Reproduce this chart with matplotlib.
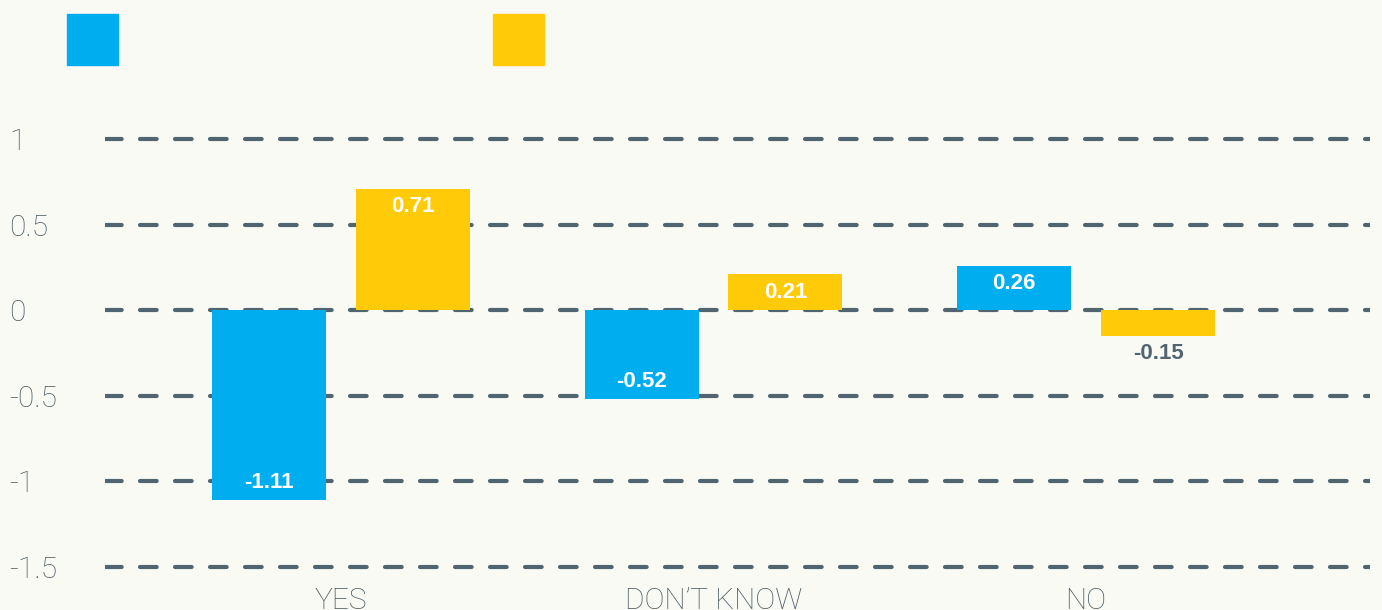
import numpy as np
import matplotlib
matplotlib.use("Agg")
from matplotlib import pyplot as plt
from matplotlib.patches import Rectangle

categories = ["YES", "DON\u2019T KNOW", "NO"]
series_a = [-1.11, -0.52, 0.26]
series_b = [0.71, 0.21, -0.15]
y_ticks = [1, 0.5, 0, -0.5, -1, -1.5]
y_tick_labels = ["1", "0.5", "0", "-0.5", "-1", "-1.5"]

BLUE = "#00aeef"
GOLD = "#ffcb08"
SLATE = "#506570"
BG = "#f9faf4"

plt.rcParams["lines.dash_capstyle"] = "round"

fig = plt.figure(figsize=(13.82, 6.10), dpi=100, facecolor=BG)
ax = fig.add_axes([105 / 1382, 0.0564, 1265 / 1382, 0.7297])
ax.set_facecolor(BG)

x = np.arange(len(categories))
width = 0.306
offset = 0.193

bars_a = ax.bar(x - offset, series_a, width, color=BLUE, zorder=3)
bars_b = ax.bar(x + offset, series_b, width, color=GOLD, zorder=3)

# value labels: inside the bar end, or just outside when the bar is too short
for bars, vals in ((bars_a, series_a), (bars_b, series_b)):
    for bar, v in zip(bars, vals):
        cx = bar.get_x() + bar.get_width() / 2
        sign = 1 if v >= 0 else -1
        if abs(v) >= 0.2:
            dy, color = -13 * sign, "white"
        else:
            dy, color = 13 * sign, SLATE
        ax.annotate(f"{v:.2f}", (cx, v), xytext=(0, dy), textcoords="offset points",
                    ha="center", va="center", fontsize=16, fontweight="bold",
                    family="Liberation Sans", color=color, zorder=4)

ax.set_xlim(-0.6336, 2.762)
ax.set_ylim(-1.55, 1.05)

ax.set_yticks(y_ticks)
ax.set_yticklabels(y_tick_labels)
ax.set_xticks(x)
ax.set_xticklabels(categories)

for lab in ax.get_yticklabels():
    lab.set_horizontalalignment("left")
for lab in ax.get_yticklabels() + ax.get_xticklabels():
    lab.set_family(["Roboto", "DejaVu Sans"])
    lab.set_fontweight("light")
    lab.set_fontsize(21.5)
    lab.set_color("#4a5c66")

ax.tick_params(axis="y", length=0, pad=69)
ax.tick_params(axis="x", length=0, pad=8)

ax.yaxis.grid(True, color=SLATE, linewidth=3, linestyle=(0, (4, 4.4)), zorder=1)
ax.set_axisbelow(True)
for s in ax.spines.values():
    s.set_visible(False)

# series swatches along the top
fig.add_artist(Rectangle((67 / 1382, 1 - 65 / 610), 51 / 1382, 51 / 610,
                         transform=fig.transFigure, color=BLUE))
fig.add_artist(Rectangle((493 / 1382, 1 - 65 / 610), 51 / 1382, 51 / 610,
                         transform=fig.transFigure, color=GOLD))

fig.savefig("out.png", dpi=100, facecolor=BG)
